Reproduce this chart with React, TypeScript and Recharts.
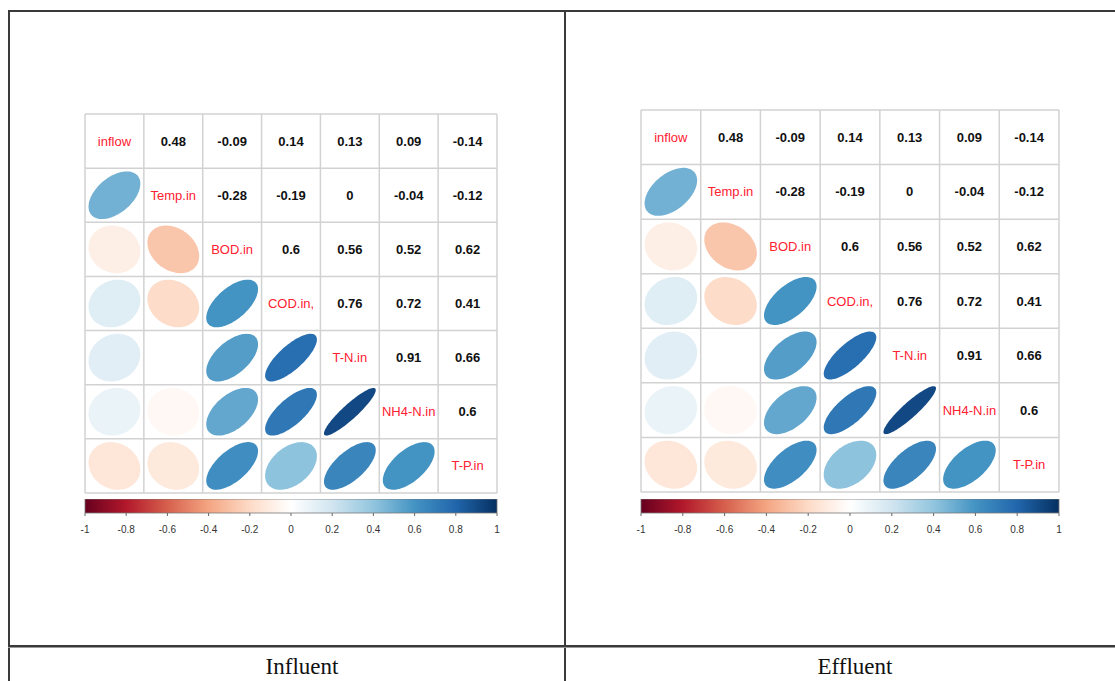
import React from 'react';
import {
  ScatterChart,
  Scatter,
  XAxis,
  YAxis,
  ReferenceLine,
  ReferenceArea,
  ComposedChart,
} from 'recharts';

// variables shown on the diagonal
const LABELS = ['inflow', 'Temp.in', 'BOD.in', 'COD.in,', 'T-N.in', 'NH4-N.in', 'T-P.in'];

// correlation matrix, one row per variable
const R_INFLOW = [1, 0.48, -0.09, 0.14, 0.13, 0.09, -0.14];
const R_TEMP = [0.48, 1, -0.28, -0.19, 0, -0.04, -0.12];
const R_BOD = [-0.09, -0.28, 1, 0.6, 0.56, 0.52, 0.62];
const R_COD = [0.14, -0.19, 0.6, 1, 0.76, 0.72, 0.41];
const R_TN = [0.13, 0, 0.56, 0.76, 1, 0.91, 0.66];
const R_NH4 = [0.09, -0.04, 0.52, 0.72, 0.91, 1, 0.6];
const R_TP = [-0.14, -0.12, 0.62, 0.41, 0.66, 0.6, 1];

const MATRIX = [R_INFLOW, R_TEMP, R_BOD, R_COD, R_TN, R_NH4, R_TP];

const LEGEND_TICKS = [-1, -0.8, -0.6, -0.4, -0.2, 0, 0.2, 0.4, 0.6, 0.8, 1];
const CELL_BOUNDS = [-0.5, 0.5, 1.5, 2.5, 3.5, 4.5, 5.5, 6.5];

const CAPTIONS = ['Influent', 'Effluent'];

// RdBu ramp, -1 .. 1 in steps of 0.2
const PALETTE = [
  '#67001F', '#B2182B', '#D6604D', '#F4A582', '#FDDBC7', '#FFFFFF',
  '#D1E5F0', '#92C5DE', '#4393C3', '#2166AC', '#053061',
];

const hexToRgb = (h: string) => [1, 3, 5].map(i => parseInt(h.slice(i, i + 2), 16));

const corrColor = (r: number) => {
  const t = ((r + 1) / 2) * 10;
  const i = Math.min(9, Math.floor(t));
  const f = t - i;
  const a = hexToRgb(PALETTE[i]);
  const b = hexToRgb(PALETTE[i + 1]);
  const c = a.map((v, k) => Math.round(v + (b[k] - v) * f));
  return `rgb(${c[0]},${c[1]},${c[2]})`;
};

const ellipsePath = (cx: number, cy: number, rx: number, ry: number, r: number) => {
  const d = Math.acos(r) / 2;
  const pts: string[] = [];
  for (let k = 0; k <= 90; k++) {
    const a = (k / 90) * Math.PI * 2;
    const x = cx + Math.cos(a + d) * rx;
    const y = cy - Math.cos(a - d) * ry;
    pts.push(`${x.toFixed(2)},${y.toFixed(2)}`);
  }
  return `M${pts.join('L')}Z`;
};

type Cell = { x: number; y: number; r: number; kind: 'label' | 'value' | 'ellipse'; name: string };

const cells: Cell[] = [];
MATRIX.forEach((row, i) =>
  row.forEach((r, j) => {
    cells.push({
      x: j,
      y: i,
      r,
      kind: i === j ? 'label' : j > i ? 'value' : 'ellipse',
      name: LABELS[i],
    });
  })
);

const M = 10;

interface PanelProps {
  left: number;
  top: number;
  width: number;
  height: number;
  barTop: number;
}

const CorrPanel: React.FC<PanelProps> = ({ left, top, width, height, barTop }) => {
  const n = LABELS.length;
  const cw = width / n;
  const ch = height / n;

  const renderCell = (props: any) => {
    const { cx, cy, payload } = props;
    if (payload.kind === 'label') {
      return (
        <text x={cx} y={cy} textAnchor="middle" dominantBaseline="central"
          fontSize={13} fill="#ff2030" fontFamily="Liberation Sans, Arial, sans-serif">
          {payload.name}
        </text>
      );
    }
    if (payload.kind === 'value') {
      return (
        <text x={cx} y={cy} textAnchor="middle" dominantBaseline="central"
          fontSize={13} fontWeight="bold" fill="#111" fontFamily="Liberation Sans, Arial, sans-serif">
          {String(payload.r)}
        </text>
      );
    }
    return <path d={ellipsePath(cx, cy, cw * 0.44, ch * 0.44, payload.r)} fill={corrColor(payload.r)} />;
  };

  return (
    <>
      <div style={{ position: 'absolute', left: left - M, top: top - M }}>
        <ScatterChart width={width + 2 * M} height={height + 2 * M} margin={{ top: M, right: M, bottom: M, left: M }}>
          <XAxis dataKey="x" type="number" domain={[-0.5, 6.5]} allowDataOverflow ticks={CELL_BOUNDS} hide />
          <YAxis dataKey="y" type="number" domain={[-0.5, 6.5]} allowDataOverflow ticks={CELL_BOUNDS} reversed hide />
          {CELL_BOUNDS.map(b => (
            <ReferenceLine key={`v${b}`} x={b} stroke="#d2d2d2" strokeWidth={1.5} />
          ))}
          {CELL_BOUNDS.map(b => (
            <ReferenceLine key={`h${b}`} y={b} stroke="#d2d2d2" strokeWidth={1.5} />
          ))}
          <Scatter data={cells} shape={renderCell} isAnimationActive={false} />
        </ScatterChart>
      </div>
      <div style={{ position: 'absolute', left: left - M, top: barTop }}>
        <ComposedChart width={width + 2 * M} height={40}
          data={LEGEND_TICKS.map(v => ({ v }))}
          margin={{ top: 0, right: M, bottom: 0, left: M }}>
          <defs>
            <linearGradient id={`rdbu${left}`} x1="0" y1="0" x2="1" y2="0">
              {PALETTE.map((c, i) => (
                <stop key={c} offset={`${i * 10}%`} stopColor={c} />
              ))}
            </linearGradient>
          </defs>
          <XAxis dataKey="v" type="number" domain={[-1, 1]} allowDataOverflow ticks={LEGEND_TICKS}
            axisLine={false} tickSize={3} tickMargin={10} height={26}
            tickLine={{ stroke: '#666' }}
            tick={{ fontSize: 10, fill: '#333', fontFamily: 'Liberation Sans, Arial, sans-serif' }} />
          <YAxis type="number" domain={[0, 1]} allowDataOverflow hide />
          <ReferenceArea x1={-1} x2={1} y1={0} y2={1} fill={`url(#rdbu${left})`} fillOpacity={1}
            stroke="#777" strokeWidth={0.8} />
        </ComposedChart>
      </div>
    </>
  );
};

export default function App() {
  return (
    <div style={{ position: 'absolute', left: 0, top: 0, width: 1115, height: 681, background: '#fff', overflow: 'hidden' }}>
      {/* table frame */}
      <div style={{ position: 'absolute', left: 8, top: 10, width: 1107, height: 2, background: '#3a3a3a' }} />
      <div style={{ position: 'absolute', left: 8, top: 10, width: 2, height: 671, background: '#3a3a3a' }} />
      <div style={{ position: 'absolute', left: 564, top: 10, width: 2, height: 671, background: '#3a3a3a' }} />
      <div style={{ position: 'absolute', left: 8, top: 645, width: 1107, height: 2, background: '#3a3a3a' }} />
      <div style={{ position: 'absolute', left: 8, top: 647, width: 1107, height: 1, background: '#999' }} />

      <CorrPanel left={85} top={114} width={412} height={379} barTop={499} />
      <CorrPanel left={641} top={110} width={418} height={382} barTop={499} />

      {CAPTIONS.map((c, i) => (
        <div key={c} style={{
          position: 'absolute', left: i === 0 ? 202 : 755, top: 654, width: 200, textAlign: 'center',
          fontFamily: 'Liberation Serif, Times New Roman, serif', fontSize: 23, color: '#111',
        }}>
          {c}
        </div>
      ))}
    </div>
  );
}
